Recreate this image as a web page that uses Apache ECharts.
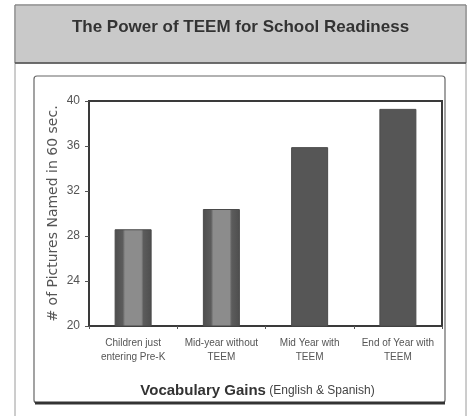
<!DOCTYPE html>
<html><head><meta charset="utf-8">
<script src="https://cdn.jsdelivr.net/npm/echarts@6/dist/echarts.min.js"></script>
<style>html,body{margin:0;padding:0;background:#fff}#c{width:469px;height:416px}</style>
</head><body><div id="c"></div>
<script>
var categories = ["Children just\nentering Pre-K", "Mid-year without\nTEEM", "Mid Year with\nTEEM", "End of Year with\nTEEM"];
var values = [28.6, 30.4, 35.9, 39.3];
var yTicks = [20, 24, 28, 32, 36, 40];
var titleText = "The Power of TEEM for School Readiness";
var yName = "# of Pictures Named in 60 sec.";

var grad = new echarts.graphic.LinearGradient(0, 0, 1, 0, [
  {offset: 0, color: '#4e4e4e'}, {offset: 0.22, color: '#5c5c5c'},
  {offset: 0.28, color: '#8c8c8c'}, {offset: 0.72, color: '#8c8c8c'},
  {offset: 0.78, color: '#5c5c5c'}, {offset: 1, color: '#4e4e4e'}]);
var solid = '#565656';

var chart = echarts.init(document.getElementById('c'), null, {renderer: 'canvas'});
chart.setOption({
  backgroundColor: '#fff',
  animation: false,
  graphic: [
    {type: 'rect', shape: {x: 15, y: 5, width: 451, height: 430}, style: {fill: '#fff', stroke: '#9a9a9a', lineWidth: 1}, z: -10},
    {type: 'rect', shape: {x: 15, y: 5, width: 451, height: 58}, style: {fill: '#c9c9c9', stroke: '#7a7a7a', lineWidth: 1}, z: -9},
    {type: 'line', shape: {x1: 15, y1: 63, x2: 466, y2: 63}, style: {stroke: '#555', lineWidth: 1.5}, z: -8},
    {type: 'text', x: 240.5, y: 27, style: {text: titleText, font: 'bold 17px "Liberation Sans", Arial, sans-serif', fill: '#333', align: 'center', verticalAlign: 'middle'}, z: 5},
    {type: 'rect', shape: {x: 34, y: 76, width: 411, height: 327, r: 3}, style: {fill: '#fff', stroke: '#666', lineWidth: 1.2}, z: -7},
    {type: 'line', shape: {x1: 35, y1: 403, x2: 445, y2: 403}, style: {stroke: '#333', lineWidth: 3}, z: -6}
  ],
  grid: {left: 89, top: 101, right: 27, bottom: 90, show: true, borderColor: '#3a3a3a', borderWidth: 2, backgroundColor: 'transparent'},
  xAxis: {
    type: 'category', data: categories,
    name: '{a|Vocabulary Gains} {b|(English & Spanish)}',
    nameLocation: 'middle', nameGap: 57,
    nameTextStyle: {padding: [0, 16, 0, 0], rich: {
      a: {fontSize: 15, fontWeight: 'bold', color: '#333', fontFamily: '"Liberation Sans Narrow", "Arial Narrow", sans-serif'},
      b: {fontSize: 12, color: '#444', fontFamily: '"Liberation Sans", Arial, sans-serif'}}},
    axisLine: {lineStyle: {color: '#3a3a3a', width: 2}},
    axisTick: {show: true, interval: 0, length: 3, lineStyle: {color: '#555'}},
    axisLabel: {interval: 0, fontSize: 10, color: '#555', lineHeight: 14, margin: 10, fontFamily: '"Liberation Sans Narrow", "Arial Narrow", sans-serif'}
  },
  yAxis: {
    type: 'value', min: yTicks[0], max: yTicks[yTicks.length - 1], interval: 4,
    name: yName, nameLocation: 'middle', nameGap: 29, nameMoveOverlap: false,
    nameTextStyle: {fontSize: 14, color: '#555', fontFamily: '"DejaVu Sans", sans-serif'},
    axisLine: {show: true, lineStyle: {color: '#3a3a3a', width: 2}},
    axisTick: {show: true, length: 4, lineStyle: {color: '#555'}},
    splitLine: {show: false},
    axisLabel: {fontSize: 12, color: '#555', margin: 9, fontFamily: '"Liberation Sans Narrow", "Arial Narrow", sans-serif'}
  },
  series: [{
    type: 'bar', barWidth: 37,
    data: values.map(function (v, i) { return {value: v, itemStyle: {color: i < 2 ? grad : solid}}; }),
    itemStyle: {borderColor: '#4a4a4a', borderWidth: 1}
  }]
});
</script></body></html>
